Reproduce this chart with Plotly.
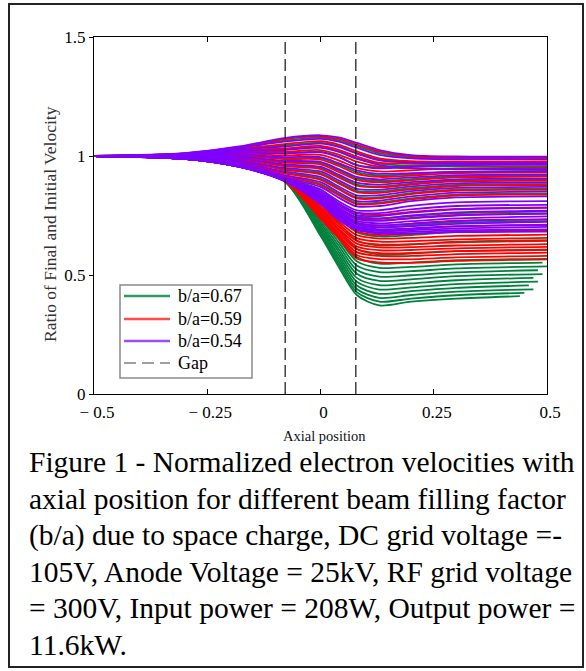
import plotly.graph_objects as go

# ---------------- data ----------------
# shared axial positions of the sampled points; the last value of each row sits at that curve's end position
X_GRID = [-0.5, -0.3, -0.18, -0.08, 0.0, 0.04, 0.08, 0.13, 0.2, 0.3]

GREEN_V = [
    [1.0, 1.011, 1.036, 1.065, 1.077, 1.066, 1.042, 1.012, 0.994, 0.988, 0.988],
    [1.0, 1.009, 1.029, 1.045, 1.056, 1.041, 1.013, 0.985, 0.975, 0.973, 0.973],
    [1.0, 1.007, 1.023, 1.028, 1.036, 1.018, 0.988, 0.968, 0.958, 0.956, 0.956],
    [1.0, 1.005, 1.015, 1.012, 1.018, 0.997, 0.962, 0.952, 0.960, 0.966, 0.967],
    [1.0, 1.002, 1.004, 0.990, 0.990, 0.965, 0.932, 0.918, 0.924, 0.934, 0.937],
    [1.0, 1.000, 0.996, 0.975, 0.970, 0.940, 0.906, 0.895, 0.903, 0.915, 0.918],
    [1.0, 0.998, 0.988, 0.960, 0.950, 0.916, 0.880, 0.872, 0.884, 0.897, 0.900],
    [1.0, 0.996, 0.980, 0.945, 0.928, 0.890, 0.853, 0.850, 0.865, 0.879, 0.882],
    [1.0, 0.994, 0.972, 0.930, 0.905, 0.864, 0.826, 0.826, 0.844, 0.859, 0.862],
    [1.0, 0.992, 0.965, 0.917, 0.882, 0.840, 0.802, 0.804, 0.822, 0.838, 0.842],
    [1.0, 0.990, 0.961, 0.908, 0.860, 0.800, 0.750, 0.738, 0.748, 0.760, 0.766],
    [1.0, 0.990, 0.959, 0.905, 0.840, 0.772, 0.715, 0.700, 0.708, 0.720, 0.726],
    [1.0, 0.989, 0.958, 0.903, 0.820, 0.745, 0.680, 0.662, 0.668, 0.680, 0.686],
    [1.0, 0.989, 0.958, 0.902, 0.800, 0.718, 0.645, 0.624, 0.628, 0.640, 0.646],
    [1.0, 0.989, 0.957, 0.901, 0.780, 0.692, 0.610, 0.586, 0.590, 0.600, 0.606],
    [1.0, 0.989, 0.957, 0.900, 0.760, 0.667, 0.576, 0.548, 0.552, 0.562, 0.568],
    [1.0, 0.989, 0.956, 0.899, 0.748, 0.652, 0.558, 0.530, 0.534, 0.545, 0.552],
    [1.0, 0.988, 0.956, 0.899, 0.737, 0.638, 0.540, 0.512, 0.516, 0.528, 0.536],
    [1.0, 0.988, 0.956, 0.898, 0.726, 0.624, 0.522, 0.493, 0.499, 0.511, 0.520],
    [1.0, 0.988, 0.955, 0.898, 0.716, 0.610, 0.505, 0.475, 0.482, 0.495, 0.504],
    [1.0, 0.988, 0.955, 0.897, 0.706, 0.597, 0.488, 0.457, 0.465, 0.478, 0.488],
    [1.0, 0.988, 0.955, 0.897, 0.697, 0.584, 0.472, 0.439, 0.448, 0.462, 0.472],
    [1.0, 0.988, 0.955, 0.896, 0.688, 0.571, 0.456, 0.421, 0.432, 0.446, 0.456],
    [1.0, 0.988, 0.955, 0.896, 0.680, 0.559, 0.441, 0.404, 0.416, 0.430, 0.440],
    [1.0, 0.988, 0.955, 0.895, 0.672, 0.547, 0.428, 0.388, 0.401, 0.415, 0.425],
    [1.0, 0.988, 0.955, 0.895, 0.665, 0.535, 0.416, 0.372, 0.388, 0.401, 0.411],
]
GREEN_XEND = [0.5] * 16 + [0.49, 0.5, 0.48, 0.49, 0.47, 0.48, 0.46, 0.47, 0.45, 0.44]

RED_V = [
    [1.0, 1.011, 1.038, 1.070, 1.082, 1.072, 1.048, 1.018, 0.999, 0.993, 0.992],
    [1.0, 1.009, 1.030, 1.050, 1.062, 1.048, 1.020, 0.990, 0.978, 0.976, 0.976],
    [1.0, 1.007, 1.024, 1.032, 1.042, 1.026, 0.998, 0.972, 0.968, 0.970, 0.971],
    [1.0, 1.005, 1.017, 1.017, 1.025, 1.006, 0.976, 0.955, 0.948, 0.945, 0.944],
    [1.0, 1.003, 1.010, 1.002, 1.005, 0.982, 0.950, 0.935, 0.940, 0.948, 0.950],
    [1.0, 1.001, 1.002, 0.987, 0.985, 0.958, 0.925, 0.912, 0.918, 0.928, 0.930],
    [1.0, 0.999, 0.994, 0.972, 0.965, 0.933, 0.900, 0.890, 0.898, 0.910, 0.913],
    [1.0, 0.997, 0.986, 0.957, 0.945, 0.910, 0.875, 0.868, 0.880, 0.893, 0.896],
    [1.0, 0.995, 0.978, 0.942, 0.923, 0.885, 0.848, 0.845, 0.860, 0.874, 0.878],
    [1.0, 0.993, 0.970, 0.927, 0.900, 0.860, 0.822, 0.822, 0.840, 0.855, 0.858],
    [1.0, 0.991, 0.964, 0.915, 0.878, 0.835, 0.798, 0.800, 0.818, 0.834, 0.838],
    [1.0, 0.990, 0.960, 0.906, 0.850, 0.800, 0.760, 0.752, 0.765, 0.778, 0.784],
    [1.0, 0.990, 0.959, 0.904, 0.838, 0.784, 0.740, 0.730, 0.740, 0.752, 0.758],
    [1.0, 0.989, 0.958, 0.903, 0.826, 0.768, 0.720, 0.708, 0.716, 0.728, 0.734],
    [1.0, 0.989, 0.958, 0.902, 0.815, 0.752, 0.700, 0.687, 0.693, 0.704, 0.710],
    [1.0, 0.989, 0.957, 0.901, 0.805, 0.738, 0.682, 0.668, 0.672, 0.682, 0.688],
    [1.0, 0.989, 0.957, 0.900, 0.796, 0.726, 0.668, 0.653, 0.656, 0.664, 0.670],
    [1.0, 0.989, 0.956, 0.899, 0.788, 0.715, 0.655, 0.640, 0.642, 0.650, 0.656],
    [1.0, 0.988, 0.956, 0.898, 0.780, 0.705, 0.643, 0.628, 0.630, 0.637, 0.643],
    [1.0, 0.988, 0.956, 0.898, 0.772, 0.695, 0.632, 0.616, 0.617, 0.624, 0.630],
    [1.0, 0.988, 0.955, 0.897, 0.765, 0.686, 0.620, 0.604, 0.605, 0.612, 0.618],
    [1.0, 0.988, 0.955, 0.897, 0.758, 0.677, 0.608, 0.592, 0.593, 0.600, 0.606],
    [1.0, 0.988, 0.955, 0.896, 0.750, 0.668, 0.596, 0.580, 0.580, 0.588, 0.594],
    [1.0, 0.988, 0.955, 0.896, 0.743, 0.661, 0.584, 0.567, 0.566, 0.574, 0.580],
    [1.0, 0.988, 0.955, 0.895, 0.736, 0.655, 0.570, 0.553, 0.551, 0.559, 0.566],
]
RED_XEND = [0.5] * len(RED_V)

PURPLE_V = [
    [1.0, 1.012, 1.040, 1.075, 1.087, 1.078, 1.055, 1.025, 1.004, 0.998, 0.997],
    [1.0, 1.010, 1.034, 1.060, 1.072, 1.060, 1.035, 1.005, 0.990, 0.986, 0.985],
    [1.0, 1.008, 1.027, 1.040, 1.052, 1.038, 1.010, 0.982, 0.972, 0.970, 0.970],
    [1.0, 1.006, 1.021, 1.025, 1.035, 1.018, 0.990, 0.962, 0.950, 0.946, 0.945],
    [1.0, 1.004, 1.014, 1.010, 1.015, 0.995, 0.962, 0.948, 0.955, 0.962, 0.963],
    [1.0, 1.002, 1.006, 0.995, 0.995, 0.970, 0.940, 0.925, 0.928, 0.933, 0.935],
    [1.0, 1.000, 0.998, 0.980, 0.975, 0.945, 0.912, 0.902, 0.910, 0.920, 0.922],
    [1.0, 0.998, 0.990, 0.965, 0.955, 0.922, 0.888, 0.880, 0.890, 0.902, 0.905],
    [1.0, 0.996, 0.982, 0.950, 0.935, 0.898, 0.862, 0.858, 0.872, 0.885, 0.888],
    [1.0, 0.994, 0.975, 0.935, 0.912, 0.872, 0.835, 0.835, 0.852, 0.866, 0.870],
    [1.0, 0.992, 0.967, 0.920, 0.890, 0.848, 0.810, 0.812, 0.830, 0.846, 0.850],
    [1.0, 0.991, 0.962, 0.910, 0.870, 0.825, 0.788, 0.790, 0.810, 0.826, 0.830],
    [1.0, 0.990, 0.960, 0.905, 0.858, 0.810, 0.772, 0.772, 0.790, 0.805, 0.810],
    [1.0, 0.990, 0.959, 0.903, 0.850, 0.800, 0.762, 0.760, 0.776, 0.790, 0.795],
    [1.0, 0.989, 0.958, 0.902, 0.843, 0.792, 0.752, 0.748, 0.762, 0.776, 0.782],
    [1.0, 0.989, 0.957, 0.901, 0.836, 0.784, 0.743, 0.737, 0.750, 0.763, 0.770],
    [1.0, 0.989, 0.957, 0.900, 0.830, 0.776, 0.735, 0.727, 0.738, 0.750, 0.758],
    [1.0, 0.989, 0.956, 0.899, 0.825, 0.769, 0.727, 0.717, 0.726, 0.738, 0.746],
    [1.0, 0.988, 0.956, 0.898, 0.820, 0.762, 0.719, 0.708, 0.715, 0.726, 0.734],
    [1.0, 0.988, 0.956, 0.897, 0.815, 0.755, 0.712, 0.700, 0.705, 0.715, 0.723],
    [1.0, 0.988, 0.955, 0.897, 0.810, 0.749, 0.705, 0.692, 0.696, 0.705, 0.712],
    [1.0, 0.988, 0.955, 0.896, 0.806, 0.743, 0.699, 0.685, 0.688, 0.696, 0.702],
    [1.0, 0.988, 0.955, 0.896, 0.802, 0.738, 0.694, 0.679, 0.681, 0.688, 0.692],
    [1.0, 0.988, 0.955, 0.895, 0.798, 0.732, 0.689, 0.674, 0.675, 0.680, 0.682],
]
PURPLE_XEND = [0.5] * len(PURPLE_V)

GAP_EDGES = [-0.078, 0.078]
Y_SPAN = [0.0, 1.5]

SERIES_NAMES = ["b/a=0.67", "b/a=0.59", "b/a=0.54", "Gap"]
X_TICKS = [-0.5, -0.25, 0, 0.25, 0.5]
X_TICKTEXT = ["\u2212 0.5", "\u2212 0.25", "0", "0.25", "0.5"]
Y_TICKS = [0, 0.5, 1, 1.5]
Y_TICKTEXT = ["0", "0.5", "1", "1.5"]
X_TITLE = "Axial position"
Y_TITLE = "Ratio of Final and Initial Velocity"
CAPTION = [
    "Figure 1 - Normalized electron velocities with",
    "axial position for different beam filling factor",
    "(b/a) due to space charge, DC grid voltage =-",
    "105V, Anode Voltage = 25kV, RF grid voltage",
    "= 300V, Input power = 208W, Output power =",
    "11.6kW.",
]

# ---------------- styling ----------------
FONT = "Liberation Serif, Times New Roman, serif"
C_GREEN, C_RED, C_PURPLE = "#00803c", "#ff0000", "#8000ff"
LEG_COLORS = ["#2f9a5f", "#ff4d4d", "#9b4dff", "#808080"]

W, H = 586, 671
L, R, T, B = 94, 547, 37, 394


def pxx(x):
    return (x - L) / (R - L)


def pxy(y):
    return (B - y) / (B - T)


fig = go.Figure()

for rows, ends, col in [(GREEN_V, GREEN_XEND, C_GREEN),
                        (RED_V, RED_XEND, C_RED),
                        (PURPLE_V, PURPLE_XEND, C_PURPLE)]:
    for row, xe in zip(rows, ends):
        fig.add_trace(go.Scatter(
            x=X_GRID + [xe], y=row, mode="lines",
            line=dict(color=col, width=1.8, shape="spline", smoothing=0.8),
            showlegend=False, hoverinfo="skip"))

# gap edges (dashed)
gx, gy = [], []
for g in GAP_EDGES:
    gx += [g, g, None]
    gy += [Y_SPAN[0], Y_SPAN[1], None]
fig.add_trace(go.Scatter(x=gx, y=gy, mode="lines",
                         line=dict(color="#111111", width=1.2, dash="12px,5px"),
                         showlegend=False, hoverinfo="skip"))

shapes = [dict(type="rect", xref="paper", yref="paper",
               x0=pxx(9), x1=pxx(583), y0=pxy(667), y1=pxy(4),
               line=dict(color="#222222", width=2), fillcolor="rgba(0,0,0,0)",
               layer="below")]

annotations = [
    dict(text=X_TITLE, x=pxx(324), y=pxy(436), xref="paper", yref="paper",
         showarrow=False, xanchor="center", yanchor="middle",
         font=dict(family=FONT, size=14.5, color="#111111")),
    dict(text=Y_TITLE, x=pxx(50), y=pxy(224), xref="paper", yref="paper",
         showarrow=False, xanchor="center", yanchor="middle", textangle=-90,
         font=dict(family=FONT, size=17.5, color="#333333")),
]

# legend box (hand-placed to match the reference spacing)
LEG_BOX = (120, 285, 252, 378)
LEG_ROWS = [296, 319, 341, 363]
shapes.append(dict(type="rect", xref="paper", yref="paper",
                   x0=pxx(LEG_BOX[0]), x1=pxx(LEG_BOX[2]),
                   y0=pxy(LEG_BOX[3]), y1=pxy(LEG_BOX[1]),
                   line=dict(color="#8a8a8a", width=1.5), fillcolor="white",
                   layer="above"))
for name, col, yy in zip(SERIES_NAMES, LEG_COLORS, LEG_ROWS):
    dash = "solid" if name != "Gap" else "12px,6px"
    shapes.append(dict(type="line", xref="paper", yref="paper",
                       x0=pxx(124), x1=pxx(170), y0=pxy(yy), y1=pxy(yy),
                       line=dict(color=col, width=2.5 if name != "Gap" else 1.5,
                                 dash=dash), layer="above"))
    annotations.append(dict(text=name, x=pxx(176), y=pxy(yy), xref="paper",
                            yref="paper", showarrow=False, xanchor="left",
                            yanchor="middle",
                            font=dict(family=FONT, size=18, color="black")))

line_y = [462, 499, 535, 572, 608, 645]
for txt, yy in zip(CAPTION, line_y):
    annotations.append(dict(
        text=txt, x=pxx(27), y=pxy(yy), xref="paper", yref="paper",
        showarrow=False, xanchor="left", yanchor="middle",
        font=dict(family=FONT, size=29.5, color="#000000")))

fig.update_layout(
    width=W, height=H,
    margin=dict(l=L, r=W - R, t=T, b=H - B, pad=0),
    paper_bgcolor="white", plot_bgcolor="white",
    font=dict(family=FONT, color="black"),
    showlegend=False,
    xaxis=dict(range=[-0.5, 0.5], tickvals=X_TICKS, ticktext=X_TICKTEXT,
               showline=True, linecolor="black", linewidth=1, mirror="allticks",
               ticks="inside", ticklen=5, tickcolor="black", tickwidth=1,
               showgrid=False, zeroline=False, ticklabelshift=3,
               ticklabelstandoff=3,
               tickfont=dict(family=FONT, size=17, color="black")),
    yaxis=dict(range=[0, 1.5], tickvals=Y_TICKS, ticktext=Y_TICKTEXT,
               showline=True, linecolor="black", linewidth=1, mirror=True,
               ticks="outside", ticklen=4, tickcolor="black", tickwidth=1,
               showgrid=False, zeroline=False,
               tickfont=dict(family=FONT, size=17, color="black")),
    annotations=annotations,
    shapes=shapes,
)

fig.write_html("out.html")
